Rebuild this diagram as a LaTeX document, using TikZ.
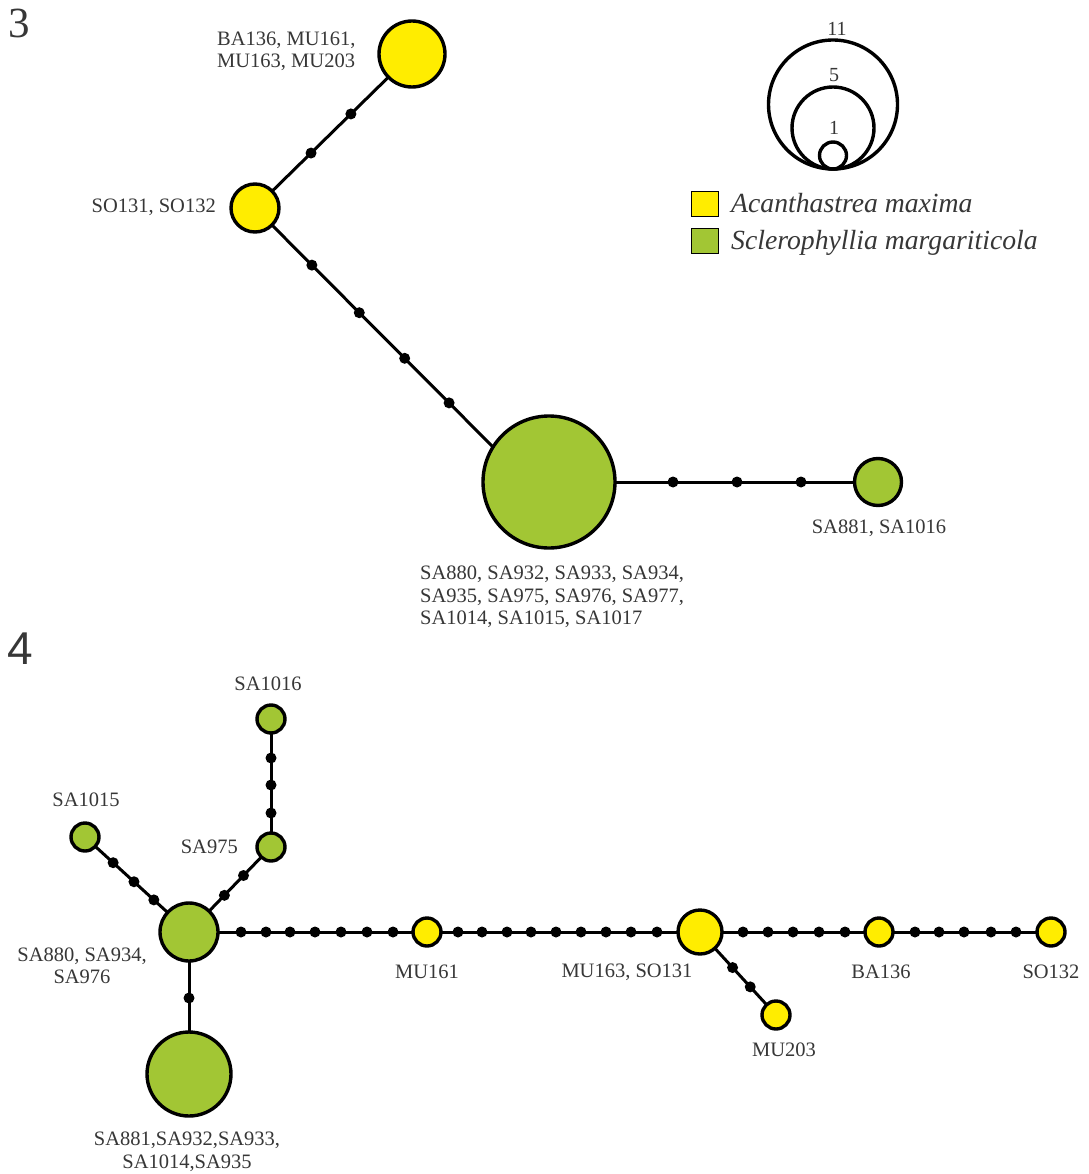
\documentclass[tikz,border=0pt]{standalone}
\usepackage{fontspec}
\setmainfont{Liberation Serif}
\newfontfamily\sansf{Liberation Sans}
\usetikzlibrary{calc}
\definecolor{yel}{RGB}{255,237,0}
\definecolor{grn}{RGB}{162,198,52}
\definecolor{txt}{RGB}{55,55,55}
\tikzset{
  hap/.style={circle,draw=black,line width=3.4pt,inner sep=0pt,outer sep=0pt},
  ya/.style={hap,fill=yel},
  gs/.style={hap,fill=grn},
  dot/.style={circle,fill=black,inner sep=0pt,outer sep=0pt,minimum size=11pt},
  edge/.style={line width=3pt,draw=black},
  lab/.style={text=txt,font=\fontsize{20.5}{22.5}\selectfont,inner sep=0pt},
  legc/.style={line width=3.4pt,draw=black},
  legsq/.style={draw=black,line width=1.4pt,inner sep=0pt,minimum width=27pt,minimum height=25pt},
  legt/.style={text=txt,font=\fontsize{27.7}{30}\selectfont\itshape,inner sep=0pt,anchor=base west},
}
\begin{document}
\begin{tikzpicture}[x=1pt,y=-1pt]
\useasboundingbox[fill=white] (0,0) rectangle (1088,1174);

% ---------------- Figure 3 ----------------
\node[lab,font=\fontsize{43}{43}\selectfont] (n3) at (19.5,23.5) {3};

\node[ya,minimum size=66pt] (ba3) at (412,54) {};
\node[ya,minimum size=48pt] (so3) at (255,208) {};
\node[gs,minimum size=132pt] (big3) at (549,482) {};
\node[gs,minimum size=47pt] (sa3) at (878,482) {};

\draw[edge] (so3) -- (ba3);
\draw[edge] (so3) -- (big3.148);
\draw[edge] (big3) -- (sa3);

\foreach \x/\y [count=\i] in {311/153,350/113}
  \node[dot] (pa\i) at ($(so3)!(\x,\y)!(ba3)$) {};
\foreach \x/\y [count=\i] in {311/266,359/313,404/359,448/404}
  \node[dot] (pb\i) at ($(so3)!(\x,\y)!(big3.148)$) {};
\foreach \x [count=\i] in {673,737,801}
  \node[dot] (pc\i) at (\x,482) {};

\node[lab,anchor=west,align=left] (lba3) at (217,51.5) {BA136, MU161,\\MU163, MU203};
\node[lab,anchor=east] (lso3) at (216,207) {SO131, SO132};
\node[lab,anchor=west,align=left] (lbig3) at (420,597) {SA880, SA932, SA933, SA934,\\SA935, SA975, SA976, SA977,\\SA1014, SA1015, SA1017};
\node[lab] (lsa3) at (879,528) {SA881, SA1016};

% legend
\draw[legc] (833,104.5) circle[radius=64.5];
\draw[legc] (833,128) circle[radius=41];
\draw[legc] (833,155.5) circle[radius=13.5];
\node[lab,font=\fontsize{20}{20}\selectfont] (k11) at (837,29) {11};
\node[lab,font=\fontsize{20}{20}\selectfont] (k5) at (834,75) {5};
\node[lab,font=\fontsize{20}{20}\selectfont] (k1) at (834,128) {1};

\node[legsq,fill=yel] (sqy) at (705,204) {};
\node[legsq,fill=grn] (sqg) at (705,241) {};
\node[legt] (ty) at (731,213) {Acanthastrea maxima};
\node[legt] (tg) at (731,249) {Sclerophyllia margariticola};

% ---------------- Figure 4 ----------------
\node[lab,font=\sansf\fontsize{46}{46}\selectfont] (n4) at (20.5,648.5) {4};

\node[gs,minimum size=58pt] (c4) at (189,932) {};
\node[gs,minimum size=84pt] (l4) at (189,1074) {};
\node[gs,minimum size=28pt] (s1015) at (85,837) {};
\node[gs,minimum size=28pt] (s975) at (271,847) {};
\node[gs,minimum size=28pt] (s1016) at (271,719) {};
\node[ya,minimum size=28pt] (mu161) at (427,932) {};
\node[ya,minimum size=44pt] (mu163) at (700,932) {};
\node[ya,minimum size=28pt] (ba136) at (879,932) {};
\node[ya,minimum size=28pt] (so132) at (1051,932) {};
\node[ya,minimum size=28pt] (mu203) at (776,1015) {};

\draw[edge] (c4) -- (s1015);
\draw[edge] (c4) -- (s975);
\draw[edge] (s975) -- (s1016);
\draw[edge] (c4) -- (l4);
\draw[edge] (c4) -- (mu161);
\draw[edge] (mu161) -- (mu163);
\draw[edge] (mu163) -- (ba136);
\draw[edge] (ba136) -- (so132);
\draw[edge] (mu163) -- (mu203);

\foreach \x/\y [count=\i] in {111/865,131/885,151/903}
  \node[dot] (qa\i) at ($(c4)!(\x,\y)!(s1015)$) {};
\foreach \x/\y [count=\i] in {222/893,243/875}
  \node[dot] (qb\i) at ($(c4)!(\x,\y)!(s975)$) {};
\foreach \y [count=\i] in {758,785,813}
  \node[dot] (qc\i) at (271,\y) {};
\node[dot] (qd1) at (189,998) {};
\foreach \x [count=\i] in {241,266,290,315,341,367,393}
  \node[dot] (qe\i) at (\x,932) {};
\foreach \x [count=\i] in {458,482,507,531,556,581,606,631,657}
  \node[dot] (qf\i) at (\x,932) {};
\foreach \x [count=\i] in {743,768,793,819,845}
  \node[dot] (qg\i) at (\x,932) {};
\foreach \x [count=\i] in {915,939,964,991,1016}
  \node[dot] (qh\i) at (\x,932) {};
\foreach \x/\y [count=\i] in {731/969,749/988}
  \node[dot] (qi\i) at ($(mu163)!(\x,\y)!(mu203)$) {};

\node[lab] (l1016) at (268,684) {SA1016};
\node[lab] (l1015) at (86,800) {SA1015};
\node[lab,anchor=east] (l975) at (238,847) {SA975};
\node[lab,align=center] (lc4) at (82,966) {SA880, SA934,\\SA976};
\node[lab,align=center] (ll4) at (187,1151.5) {SA881,SA932,SA933,\\SA1014,SA935};
\node[lab] (lmu161) at (427,972) {MU161};
\node[lab] (lmu163) at (627,972) {MU163, SO131};
\node[lab] (lmu203) at (784,1050) {MU203};
\node[lab] (lba136) at (881,972) {BA136};
\node[lab] (lso132) at (1051,972) {SO132};
\end{tikzpicture}
\end{document}
